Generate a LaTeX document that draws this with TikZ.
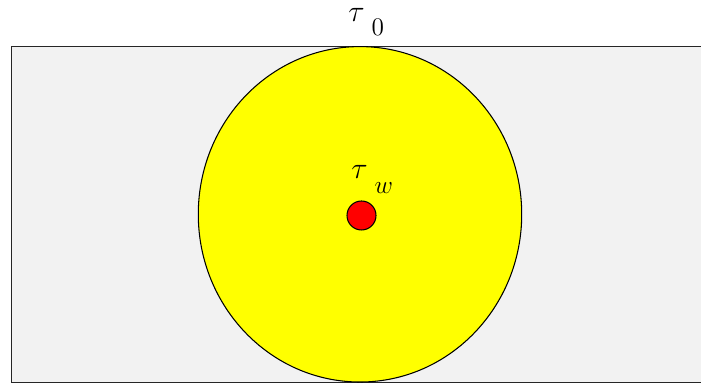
\documentclass[tikz,border=0pt]{standalone}
\usepackage{amsmath}
\usepackage{tikz}
\usetikzlibrary{shapes.geometric, positioning, calc}
\definecolor{slabgray}{RGB}{242,242,242}
\definecolor{diskyellow}{RGB}{255,255,0}
\definecolor{wallred}{RGB}{255,0,0}

\newcommand{\bigtau}{{\fontsize{17}{19}\selectfont$\tau$}}
\newcommand{\lowsub}[2]{\raisebox{-#1}{\fontsize{14}{16}\selectfont$#2$}}

\begin{document}
\begin{tikzpicture}[
  x=0.02cm, y=-0.02cm,
  slab/.style = {draw=black!85, line width=0.9pt, fill=slabgray},
  disk/.style = {
    ellipse, draw=black, line width=0.6pt, fill=diskyellow,
    minimum width=6.47cm, minimum height=6.71cm, inner sep=0pt
  },
  dot/.style = {
    circle, draw=black, line width=0.6pt, fill=wallred,
    minimum size=0.58cm, inner sep=0pt
  },
  lbl/.style = {inner sep=0pt, anchor=base west}
]
\useasboundingbox (0,0) rectangle (701,384);

%% ── background slab (right edge runs off the page) ────────────────────────
\draw[slab] (11.5,46.5) rectangle (720,382.5);

%% ── large disk and its centre ─────────────────────────────────────────────
\node[disk] (disk) at (360,214.3) {};
\node[dot]  (wall) at (361.5,215.5) {};

%% ── labels ────────────────────────────────────────────────────────────────
\node[lbl] (tauzero) at (348,21.5) {\bigtau\hspace{4pt}\lowsub{7.8pt}{0}};
\node[lbl] (tauwall) at (351,179)  {\bigtau\hspace{4pt}\lowsub{8pt}{w}};

\end{tikzpicture}
\end{document}
